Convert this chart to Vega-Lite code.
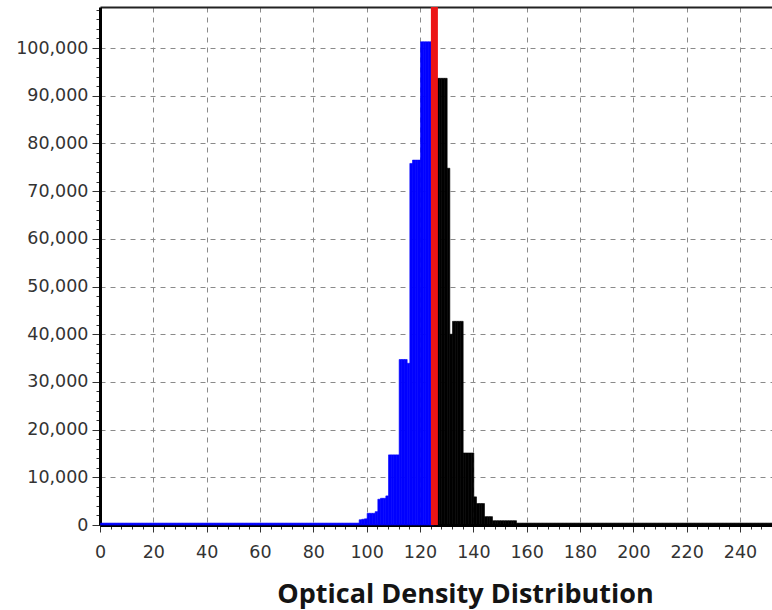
{
  "$schema": "https://vega.github.io/schema/vega-lite/v6.json",
  "width": 672,
  "height": 518,
  "autosize": {"type": "none"},
  "padding": {"left": 100, "top": 7, "right": 0, "bottom": 85},
  "background": "white",
  "config": {
    "view": {"stroke": null},
    "axis": {"labelFont": "DejaVu Sans", "labelFontSize": 17.5, "labelColor": "#333333"}
  },
  "data": {"values": [
    {"v":0,"c":400},{"v":1,"c":400},{"v":2,"c":400},{"v":3,"c":400},{"v":4,"c":400},{"v":5,"c":400},{"v":6,"c":400},{"v":7,"c":400},{"v":8,"c":400},{"v":9,"c":400},
    {"v":10,"c":400},{"v":11,"c":400},{"v":12,"c":400},{"v":13,"c":400},{"v":14,"c":400},{"v":15,"c":400},{"v":16,"c":400},{"v":17,"c":400},{"v":18,"c":400},{"v":19,"c":400},
    {"v":20,"c":400},{"v":21,"c":400},{"v":22,"c":400},{"v":23,"c":400},{"v":24,"c":400},{"v":25,"c":400},{"v":26,"c":400},{"v":27,"c":400},{"v":28,"c":400},{"v":29,"c":400},
    {"v":30,"c":400},{"v":31,"c":400},{"v":32,"c":400},{"v":33,"c":400},{"v":34,"c":400},{"v":35,"c":400},{"v":36,"c":400},{"v":37,"c":400},{"v":38,"c":400},{"v":39,"c":400},
    {"v":40,"c":400},{"v":41,"c":400},{"v":42,"c":400},{"v":43,"c":400},{"v":44,"c":400},{"v":45,"c":400},{"v":46,"c":400},{"v":47,"c":400},{"v":48,"c":400},{"v":49,"c":400},
    {"v":50,"c":400},{"v":51,"c":400},{"v":52,"c":400},{"v":53,"c":400},{"v":54,"c":400},{"v":55,"c":400},{"v":56,"c":400},{"v":57,"c":400},{"v":58,"c":400},{"v":59,"c":400},
    {"v":60,"c":400},{"v":61,"c":400},{"v":62,"c":400},{"v":63,"c":400},{"v":64,"c":400},{"v":65,"c":400},{"v":66,"c":400},{"v":67,"c":400},{"v":68,"c":400},{"v":69,"c":400},
    {"v":70,"c":400},{"v":71,"c":400},{"v":72,"c":400},{"v":73,"c":400},{"v":74,"c":400},{"v":75,"c":400},{"v":76,"c":400},{"v":77,"c":400},{"v":78,"c":400},{"v":79,"c":400},
    {"v":80,"c":400},{"v":81,"c":400},{"v":82,"c":400},{"v":83,"c":400},{"v":84,"c":400},{"v":85,"c":400},{"v":86,"c":400},{"v":87,"c":400},{"v":88,"c":400},{"v":89,"c":400},
    {"v":90,"c":400},{"v":91,"c":400},{"v":92,"c":400},{"v":93,"c":400},{"v":94,"c":400},{"v":95,"c":400},{"v":96,"c":400},{"v":97,"c":1100},{"v":98,"c":1200},{"v":99,"c":1300},
    {"v":100,"c":2450},{"v":101,"c":2450},{"v":102,"c":2450},{"v":103,"c":2800},{"v":104,"c":5400},{"v":105,"c":5600},{"v":106,"c":5600},{"v":107,"c":6100},{"v":108,"c":14700},{"v":109,"c":14700},
    {"v":110,"c":14700},{"v":111,"c":14700},{"v":112,"c":34700},{"v":113,"c":34700},{"v":114,"c":34700},{"v":115,"c":33900},{"v":116,"c":75800},{"v":117,"c":76500},{"v":118,"c":76500},{"v":119,"c":76500},
    {"v":120,"c":101300},{"v":121,"c":101300},{"v":122,"c":101300},{"v":123,"c":101300},{"v":124,"c":101300},{"v":125,"c":93650},{"v":126,"c":93650},{"v":127,"c":93650},{"v":128,"c":93650},{"v":129,"c":93650},
    {"v":130,"c":74800},{"v":131,"c":40000},{"v":132,"c":42700},{"v":133,"c":42700},{"v":134,"c":42700},{"v":135,"c":42700},{"v":136,"c":15100},{"v":137,"c":15100},{"v":138,"c":15100},{"v":139,"c":15100},
    {"v":140,"c":5900},{"v":141,"c":4500},{"v":142,"c":4500},{"v":143,"c":4500},{"v":144,"c":1750},{"v":145,"c":1750},{"v":146,"c":1750},{"v":147,"c":900},{"v":148,"c":900},{"v":149,"c":900},
    {"v":150,"c":900},{"v":151,"c":900},{"v":152,"c":900},{"v":153,"c":900},{"v":154,"c":900},{"v":155,"c":900},{"v":156,"c":400},{"v":157,"c":400},{"v":158,"c":400},{"v":159,"c":400},
    {"v":160,"c":400},{"v":161,"c":400},{"v":162,"c":400},{"v":163,"c":400},{"v":164,"c":400},{"v":165,"c":400},{"v":166,"c":400},{"v":167,"c":400},{"v":168,"c":400},{"v":169,"c":400},
    {"v":170,"c":400},{"v":171,"c":400},{"v":172,"c":400},{"v":173,"c":400},{"v":174,"c":400},{"v":175,"c":400},{"v":176,"c":400},{"v":177,"c":400},{"v":178,"c":400},{"v":179,"c":400},
    {"v":180,"c":400},{"v":181,"c":400},{"v":182,"c":400},{"v":183,"c":400},{"v":184,"c":400},{"v":185,"c":400},{"v":186,"c":400},{"v":187,"c":400},{"v":188,"c":400},{"v":189,"c":400},
    {"v":190,"c":400},{"v":191,"c":400},{"v":192,"c":400},{"v":193,"c":400},{"v":194,"c":400},{"v":195,"c":400},{"v":196,"c":400},{"v":197,"c":400},{"v":198,"c":400},{"v":199,"c":400},
    {"v":200,"c":400},{"v":201,"c":400},{"v":202,"c":400},{"v":203,"c":400},{"v":204,"c":400},{"v":205,"c":400},{"v":206,"c":400},{"v":207,"c":400},{"v":208,"c":400},{"v":209,"c":400},
    {"v":210,"c":400},{"v":211,"c":400},{"v":212,"c":400},{"v":213,"c":400},{"v":214,"c":400},{"v":215,"c":400},{"v":216,"c":400},{"v":217,"c":400},{"v":218,"c":400},{"v":219,"c":400},
    {"v":220,"c":400},{"v":221,"c":400},{"v":222,"c":400},{"v":223,"c":400},{"v":224,"c":400},{"v":225,"c":400},{"v":226,"c":400},{"v":227,"c":400},{"v":228,"c":400},{"v":229,"c":400},
    {"v":230,"c":400},{"v":231,"c":400},{"v":232,"c":400},{"v":233,"c":400},{"v":234,"c":400},{"v":235,"c":400},{"v":236,"c":400},{"v":237,"c":400},{"v":238,"c":400},{"v":239,"c":400},
    {"v":240,"c":400},{"v":241,"c":400},{"v":242,"c":400},{"v":243,"c":400},{"v":244,"c":400},{"v":245,"c":400},{"v":246,"c":400},{"v":247,"c":400},{"v":248,"c":400},{"v":249,"c":400},
    {"v":250,"c":400},{"v":251,"c":400}
  ]},
  "layer": [
    {
      "mark": {"type": "bar", "binSpacing": 0, "strokeWidth": 0.6},
      "encoding": {
        "x": {
          "field": "v", "type": "quantitative",
          "bin": {"step": 1, "extent": [0, 252]},
          "scale": {"domain": [0, 252], "nice": false, "zero": false},
          "axis": {
            "values": [0,4,8,12,16,20,24,28,32,36,40,44,48,52,56,60,64,68,72,76,80,84,88,92,96,100,104,108,112,116,120,124,128,132,136,140,144,148,152,156,160,164,168,172,176,180,184,188,192,196,200,204,208,212,216,220,224,228,232,236,240,244,248,252],
            "labelExpr": "datum.value % 20 === 0 ? format(datum.value, 'd') : ''",
            "tickSize": {"condition": {"test": "datum.value % 20 === 0", "value": 7}, "value": 4},
            "grid": true,
            "gridOpacity": {"condition": {"test": "datum.value % 20 === 0 && datum.value > 0", "value": 1}, "value": 0},
            "gridDash": [5, 5],
            "gridColor": "#8a8a8a",
            "gridWidth": 1,
            "domainColor": "#000000",
            "domainWidth": 3,
            "tickColor": "#333333",
            "labelPadding": 11,
            "labelFlush": false,
            "labelOverlap": false,
            "title": "Optical Density Distribution",
            "titleFont": "Open Sans",
            "titleFontWeight": "bold",
            "titleFontSize": 27,
            "titleColor": "#141414",
            "titleX": 365,
            "titleY": 77,
            "titleBaseline": "alphabetic",
            "titleAlign": "center"
          }
        },
        "y": {
          "field": "c", "type": "quantitative",
          "scale": {"domain": [0, 108600], "nice": false},
          "axis": {
            "values": [0,2000,4000,6000,8000,10000,12000,14000,16000,18000,20000,22000,24000,26000,28000,30000,32000,34000,36000,38000,40000,42000,44000,46000,48000,50000,52000,54000,56000,58000,60000,62000,64000,66000,68000,70000,72000,74000,76000,78000,80000,82000,84000,86000,88000,90000,92000,94000,96000,98000,100000,102000,104000,106000,108000],
            "labelExpr": "datum.value % 10000 === 0 ? format(datum.value, ',') : ''",
            "tickSize": {"condition": {"test": "datum.value % 10000 === 0", "value": 8}, "value": 4},
            "grid": true,
            "gridOpacity": {"condition": {"test": "datum.value % 10000 === 0 && datum.value > 0", "value": 1}, "value": 0},
            "gridDash": [5, 5],
            "gridColor": "#8a8a8a",
            "gridWidth": 1,
            "domainColor": "#000000",
            "domainWidth": 3,
            "tickColor": "#333333",
            "labelPadding": 4,
            "labelOverlap": false,
            "title": null
          }
        },
        "fill": {"condition": {"test": "datum.v < 125", "value": "#0000ff"}, "value": "#000000"},
        "stroke": {"condition": {"test": "datum.v < 125", "value": "#0000ff"}, "value": "#000000"}
      }
    },
    {
      "data": {"values": [{"threshold": 125.4}]},
      "mark": {"type": "rule", "color": "#ec1515", "strokeWidth": 7},
      "encoding": {
        "x": {
          "field": "threshold", "type": "quantitative",
          "axis": {"orient": "top", "labels": false, "ticks": false, "grid": false, "domainColor": "#222222", "domainWidth": 2, "title": null}
        }
      }
    }
  ],
  "resolve": {"axis": {"x": "independent"}}
}
